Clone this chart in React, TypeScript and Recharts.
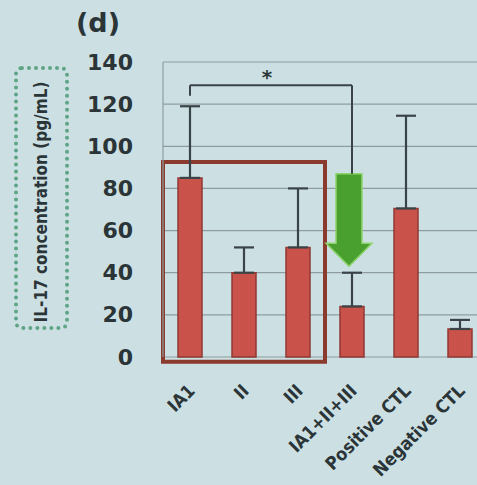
import React from 'react';
import {
  Bar,
  BarChart,
  CartesianGrid,
  ErrorBar,
  ReferenceArea,
  ReferenceLine,
  XAxis,
  YAxis,
} from 'recharts';

// IL-17 concentration (pg/mL) per group
const categories = ['IA1', 'II', 'III', 'IA1+II+III', 'Positive CTL', 'Negative CTL'];
const means = [85, 40, 52, 24, 70.5, 13.3];
const upperErr = [34, 12, 28, 16, 44, 4.3];
const yTicks = [0, 20, 40, 60, 80, 100, 120, 140];

// bracket + arrow annotation levels
const bracketY = 129;
const bracketLeftEnd = 124;
const bracketRightEnd = 87;
const arrowTop = 87;
const arrowTip = 43;
const boxTop = 92.5;
const boxBottom = -2.3;

const data = categories.map((name, i) => ({
  name,
  value: means[i],
  err: [0, upperErr[i]],
}));

const TEXT = '#2b3538';
const BG = '#cce0e3';

const YTick = (props: any) => {
  const { y, payload } = props;
  return (
    <text
      x={133}
      y={y}
      textAnchor="end"
      dominantBaseline="central"
      fontFamily="DejaVu Sans"
      fontWeight="bold"
      fontSize={22}
      fill={TEXT}
    >
      {payload.value}
    </text>
  );
};

const XTick = (props: any) => {
  const { x, payload } = props;
  const ax = x + 6;
  const ay = 392;
  return (
    <text
      x={ax}
      y={ay}
      textAnchor="end"
      transform={`rotate(-45, ${ax}, ${ay})`}
      fontFamily="DejaVu Sans Condensed"
      fontWeight="bold"
      fontSize={18}
      fill={TEXT}
    >
      {payload.value}
    </text>
  );
};

const YLabel = () => (
  <g>
    <rect
      x={16}
      y={68}
      width={51}
      height={260}
      rx={6}
      fill="none"
      stroke="#5fa585"
      strokeWidth={4}
      strokeDasharray="0 7"
      strokeLinecap="round"
    />
    <text
      x={41}
      y={202}
      textAnchor="middle"
      dominantBaseline="central"
      transform="rotate(-90, 41, 202)"
      fontFamily="DejaVu Sans Condensed"
      fontWeight="bold"
      fontSize={17}
      fill={TEXT}
    >
      IL-17 concentration (pg/mL)
    </text>
  </g>
);

const GreenArrow = (props: any) => {
  const { x, y, width, height } = props;
  const cx = x + width / 2 - 3;
  const shaft = 13;
  const head = 23;
  const neck = y + height * 0.75;
  const pts = [
    [cx - shaft, y],
    [cx + shaft, y],
    [cx + shaft, neck],
    [cx + head, neck],
    [cx, y + height],
    [cx - head, neck],
    [cx - shaft, neck],
  ]
    .map((p) => p.join(','))
    .join(' ');
  return <polygon points={pts} fill="#49a02f" stroke="#8fd46f" strokeWidth={1.5} />;
};

export default function App() {
  return (
    <div
      style={{
        position: 'absolute',
        left: 0,
        top: 0,
        width: 477,
        height: 485,
        overflow: 'hidden',
        background: BG,
      }}
    >
      <div
        style={{
          position: 'absolute',
          left: 76,
          top: 7,
          fontFamily: 'DejaVu Sans',
          fontWeight: 'bold',
          fontSize: 27,
          color: TEXT,
        }}
      >
        (d)
      </div>
      <BarChart
        width={500}
        height={485}
        data={data}
        margin={{ top: 62, right: 13, bottom: 0, left: 0 }}
      >
        <CartesianGrid vertical={false} stroke="#8e9c9f" strokeWidth={1.2} />
        <XAxis
          dataKey="name"
          height={128}
          axisLine={false}
          tickLine={false}
          interval={0}
          tick={<XTick />}
        />
        <YAxis
          width={163}
          domain={[0, 140]}
          ticks={yTicks}
          axisLine={{ stroke: '#8e9c9f', strokeWidth: 1.2 }}
          tickLine={false}
          tick={<YTick />}
          label={{ content: <YLabel /> }}
        />
        <Bar
          dataKey="value"
          barSize={24}
          fill="#c9524a"
          stroke="#8e3a33"
          strokeWidth={1.5}
          isAnimationActive={false}
        >
          <ErrorBar
            dataKey="err"
            direction="y"
            width={10}
            stroke="#3a4347"
            strokeWidth={2.2}
          />
        </Bar>
        <ReferenceLine
          segment={[
            { x: 'IA1', y: bracketY },
            { x: 'IA1+II+III', y: bracketY },
          ]}
          stroke="#3a4347"
          strokeWidth={2}
          ifOverflow="visible"
          label={{
            value: '*',
            position: 'top',
            dx: -4,
            dy: 4,
            fill: TEXT,
            fontSize: 20,
            fontWeight: 'bold',
            fontFamily: 'DejaVu Sans',
          }}
        />
        <ReferenceLine
          segment={[
            { x: 'IA1', y: bracketY },
            { x: 'IA1', y: bracketLeftEnd },
          ]}
          stroke="#3a4347"
          strokeWidth={2}
          ifOverflow="visible"
        />
        <ReferenceLine
          segment={[
            { x: 'IA1+II+III', y: bracketY },
            { x: 'IA1+II+III', y: bracketRightEnd },
          ]}
          stroke="#3a4347"
          strokeWidth={2}
          ifOverflow="visible"
        />
        <ReferenceArea
          x1="IA1"
          x2="III"
          y1={boxBottom}
          y2={boxTop}
          fill="none"
          stroke="#8b3a2e"
          strokeWidth={4}
          ifOverflow="visible"
        />
        <ReferenceArea
          x1="IA1+II+III"
          x2="IA1+II+III"
          y1={arrowTip}
          y2={arrowTop}
          ifOverflow="visible"
          shape={<GreenArrow />}
        />
      </BarChart>
    </div>
  );
}
